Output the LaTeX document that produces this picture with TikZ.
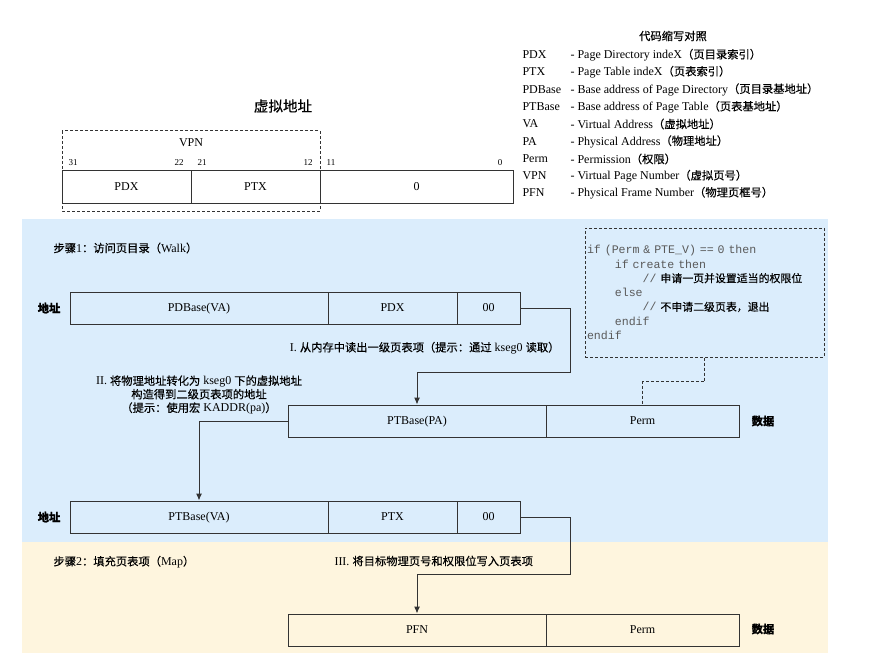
\documentclass[tikz,border=0pt]{standalone}
\usepackage{fontspec}
\setmainfont{Liberation Serif}
\setmonofont[WordSpace={1,0,0}]{Liberation Mono}
\newfontfamily\cjk[Scale=0.94, FakeBold=0.35]{Noto Sans CJK SC}
\newcommand{\zh}[1]{{\cjk #1}}
\usetikzlibrary{arrows.meta}

\definecolor{walkblue}{HTML}{DBEDFC}
\definecolor{mapyellow}{HTML}{FEF5DE}
\definecolor{linegray}{HTML}{333333}
\definecolor{codegray}{HTML}{5A5A5A}

\begin{document}
\begin{tikzpicture}[x=1pt, y=-1pt, line width = 1pt, >={Latex[length=7pt,width=6pt]},
  cell/.style={draw=linegray, minimum height=32, inner sep=0pt, text height=9pt, text depth=3pt,
    font=\fontsize{12}{14}\selectfont},
  lbl/.style={inner sep=0pt, font=\fontsize{12}{14}\selectfont},
  bit/.style={inner sep=0pt, font=\fontsize{9}{10}\selectfont},
  strong/.style={inner sep=0pt, font=\fontsize{12}{14}\selectfont\cjk\bfseries},
  link/.style={draw=linegray},
  dashline/.style={draw=linegray, dash pattern=on 3pt off 2pt},
  codebox/.style={dashline, minimum width=239, minimum height=129, text width=235, inner sep=2pt,
    align=left, text=codegray, font=\fontsize{11.6}{14.3}\selectfont\ttfamily}]

\useasboundingbox (0,0) rectangle (869,671);

% backgrounds of the two steps
\fill[walkblue] (22,219) rectangle (828,542);
\fill[mapyellow] (22,542) rectangle (828,653);

% virtual address
\node[inner sep=0pt, font=\fontsize{15.5}{17}\selectfont\cjk] (vatitle) at (283,106) {虚拟地址};

\node[cell, minimum width=129] (vapdx) at (126.5,187) {PDX};
\node[cell, minimum width=129] (vaptx) at (255.5,187) {PTX};
\node[cell, minimum width=193] (vaoff) at (416.5,187) {0};
\draw[dashline] (62,131) rectangle (320,211);
\node[lbl] (vpn) at (191,143) {VPN};

\node[bit] (b31) at (73,163) {31};
\node[bit] (b22) at (179,163) {22};
\node[bit] (b21) at (202,163) {21};
\node[bit] (b12) at (308,163) {12};
\node[bit] (b11) at (331,163) {11};
\node[bit] (b0) at (500,163) {0};

% abbreviations
\node[lbl, font=\fontsize{12}{14}\selectfont\cjk] (legtitle) at (673,36) {代码缩写对照};
\node[lbl, anchor=west] (abPDX) at (522,55) {PDX};
\node[lbl, anchor=west] (dePDX) at (570,55) {- Page Directory indeX\zh{（页目录索引）}};
\node[lbl, anchor=west] (abPTX) at (522,72) {PTX};
\node[lbl, anchor=west] (dePTX) at (570,72) {- Page Table indeX\zh{（页表索引）}};
\node[lbl, anchor=west] (abPDB) at (522,89.5) {PDBase};
\node[lbl, anchor=west] (dePDB) at (570,89.5) {- Base address of Page Directory\zh{（页目录基地址）}};
\node[lbl, anchor=west] (abPTB) at (522,107) {PTBase};
\node[lbl, anchor=west] (dePTB) at (570,107) {- Base address of Page Table\zh{（页表基地址）}};
\node[lbl, anchor=west] (abVA) at (522,124) {VA};
\node[lbl, anchor=west] (deVA) at (570,124) {- Virtual Address\zh{（虚拟地址）}};
\node[lbl, anchor=west] (abPA) at (522,141.5) {PA};
\node[lbl, anchor=west] (dePA) at (570,141.5) {- Physical Address\zh{（物理地址）}};
\node[lbl, anchor=west] (abPerm) at (522,159) {Perm};
\node[lbl, anchor=west] (dePerm) at (570,159) {- Permission\zh{（权限）}};
\node[lbl, anchor=west] (abVPN) at (522,176) {VPN};
\node[lbl, anchor=west] (deVPN) at (570,176) {- Virtual Page Number\zh{（虚拟页号）}};
\node[lbl, anchor=west] (abPFN) at (522,193) {PFN};
\node[lbl, anchor=west] (dePFN) at (570,193) {- Physical Frame Number\zh{（物理页框号）}};

% step 1
\node[lbl, anchor=west] (walk) at (53,248) {\zh{步骤}1\zh{：访问页目录（}Walk\zh{）}};

\node[strong] (addr1) at (49,308) {地址};
\node[cell, minimum width=258] (pdbase) at (199,308) {PDBase(VA)};
\node[cell, minimum width=129] (pdx) at (392.5,308) {PDX};
\node[cell, minimum width=63] (pdoff) at (488.5,308) {00};

\node[codebox] (walkcode) at (704.5,292.5) {if (Perm \& PTE\_V) == 0 then\\
\hphantom{xxxx}if create then\\
\hphantom{xxxxxxxx}// \zh{\color{black}申请一页并设置适当的权限位}\\
\hphantom{xxxx}else\\
\hphantom{xxxxxxxx}// \zh{\color{black}不申请二级页表，退出}\\
\hphantom{xxxx}endif\\
endif};

\node[cell, minimum width=258] (ptbase) at (417,421) {PTBase(PA)};
\node[cell, minimum width=193] (perm1) at (642.5,421) {Perm};
\node[strong] (data1) at (763,421) {数据};

\draw[link,->] (pdoff.east) -- ++(50,0) -- ++(0,64) -| (ptbase.north);
\node[lbl, anchor=east] (readpde) at (560,348) {I. \zh{从内存中读出一级页表项（提示：通过} kseg0 \zh{读取）}};
\draw[dashline] (walkcode.south) -- ++(0,24) -| (perm1.north);

\node[lbl, align=center, font=\fontsize{12}{13.5}\selectfont] (kaddr) at (199,395) {II. \zh{将物理地址转化为} kseg0 \zh{下的虚拟地址}\\
\zh{构造得到二级页表项的地址}\\
\zh{（提示：使用宏} KADDR(pa)\zh{）}};

\node[strong] (addr2) at (49,517) {地址};
\node[cell, minimum width=258] (ptbva) at (199,517) {PTBase(VA)};
\node[cell, minimum width=129] (ptx) at (392.5,517) {PTX};
\node[cell, minimum width=63] (ptoff) at (488.5,517) {00};

\draw[link,->] (ptbase.west) -| (ptbva.north);

% step 2
\node[lbl, anchor=west] (map) at (53,562) {\zh{步骤}2\zh{：填充页表项（}Map\zh{）}};
\node[lbl, anchor=west] (writepte) at (334,561) {III. \zh{将目标物理页号和权限位写入页表项}};

\node[cell, minimum width=258] (pfn) at (417,630) {PFN};
\node[cell, minimum width=193] (perm2) at (642.5,630) {Perm};
\node[strong] (data2) at (763,629) {数据};

\draw[link,->] (ptoff.east) -- ++(50,0) -- ++(0,57) -| (pfn.north);

\end{tikzpicture}
\end{document}
